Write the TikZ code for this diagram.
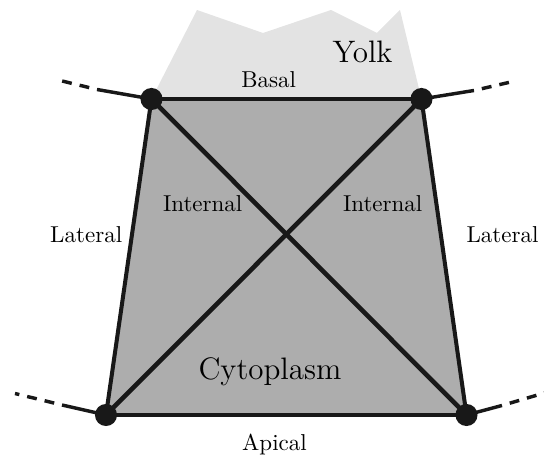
\documentclass[tikz,border=0pt]{standalone}
\definecolor{cyto}{RGB}{173,173,173}
\definecolor{yolkc}{RGB}{227,227,227}
\definecolor{ink}{RGB}{24,24,24}
\begin{document}
\begin{tikzpicture}[x=0.4348pt,y=-0.4348pt,
  edge/.style={draw=ink,line width=1.75pt},
  diag/.style={draw=ink,line width=2pt},
  outer/.style={draw=ink,line width=1.5pt},
  outerdash/.style={draw=ink,line width=1.5pt,dash pattern=on 4.3pt off 3.5pt,dash phase=4.3pt},
  vertex/.style={circle,fill=ink,inner sep=0pt,minimum size=9.6pt},
  lbl/.style={anchor=base,inner sep=0pt,font=\fontsize{10}{12}\selectfont},
  biglbl/.style={anchor=base,inner sep=0pt,font=\fontsize{13.5}{16}\selectfont}]
\useasboundingbox (0,0) rectangle (544,455);
% coordinates
\coordinate (TL) at (151.5,99);
\coordinate (TR) at (421.5,99);
\coordinate (BL) at (106,415);
\coordinate (BR) at (466.5,415);
% yolk
\fill[yolkc] (TL) -- (197,10) -- (263,33) -- (331,10) -- (377,33) -- (400,10) -- (TR) -- cycle;
% cytoplasm
\fill[cyto] (TL) -- (TR) -- (BR) -- (BL) -- cycle;
% outer connectors
\coordinate (tlm) at (97,89.5);
\coordinate (tle) at (60,80.5);
\coordinate (trm) at (474,90.5);
\coordinate (tre) at (513,81.5);
\coordinate (blm) at (62,405);
\coordinate (ble) at (15,393.5);
\coordinate (brm) at (502,405.5);
\coordinate (bre) at (546,392.5);
\draw[outer] (TL) -- (tlm);
\draw[outerdash] (tlm) -- (tle);
\draw[outer] (TR) -- (trm);
\draw[outerdash] (trm) -- (tre);
\draw[outer] (BL) -- (blm);
\draw[outerdash] (blm) -- (ble);
\draw[outer] (BR) -- (brm);
\draw[outerdash] (brm) -- (bre);
% edges
\draw[edge] (TL) -- (TR);
\draw[edge] (TR) -- (BR);
\draw[edge] (BR) -- (BL);
\draw[edge] (BL) -- (TL);
\draw[diag] (TL) -- (BR);
\draw[diag] (TR) -- (BL);
% vertices
\node[vertex] (vTL) at (TL) {};
\node[vertex] (vTR) at (TR) {};
\node[vertex] (vBL) at (BL) {};
\node[vertex] (vBR) at (BR) {};
% labels
\node[biglbl] (yolk) at (362.5,63) {Yolk};
\node[lbl] (basal) at (268.7,87.3) {Basal};
\node[lbl] (intl) at (202.7,211.7) {Internal};
\node[lbl] (intr) at (382.7,211.7) {Internal};
\node[lbl] (latl) at (86.2,242.3) {Lateral};
\node[lbl] (latr) at (502.5,242.3) {Lateral};
\node[biglbl] (cyt) at (270,379.3) {Cytoplasm};
\node[lbl] (apical) at (274.5,451) {Apical};
\end{tikzpicture}
\end{document}
